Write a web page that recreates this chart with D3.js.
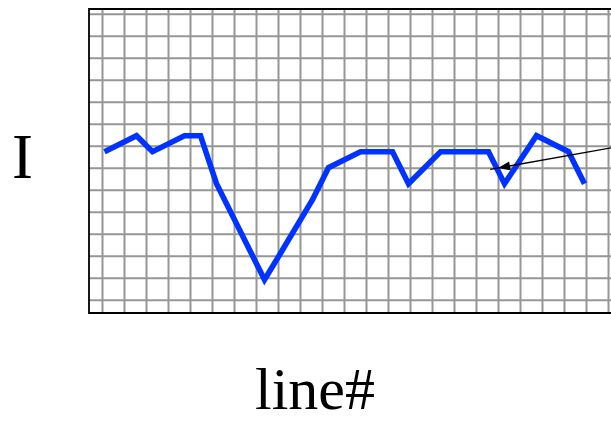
<!DOCTYPE html>
<html>
<head>
<meta charset="utf-8">
<script src="https://cdn.jsdelivr.net/npm/d3@7"></script>
<style>
  html, body { margin: 0; padding: 0; background: #fff; overflow: hidden; }
  svg { display: block; }
</style>
</head>
<body>
<svg id="chart" width="611" height="423"></svg>
<script>
// ---- data ----
const lineNumbers = [0, 2, 3, 5, 6, 7, 10, 11, 13, 14, 16, 18, 19, 21, 24, 25, 27, 29, 30];
const intensity   = [8, 9, 8, 9, 9, 6, 0, 1.65, 5, 7, 8, 8, 6, 8, 8, 6, 9, 8, 6];
const arrowFrom = [31.7, 8.25];
const arrowTo   = [24.6, 6.98];
const xLabel = "line#";
const yLabel = "I";

// ---- layout ----
const W = 611, H = 423;
const plot = { left: 89, top: 9, bottom: 313, right: 660 };

const svg = d3.select("#chart");

const x = d3.scaleLinear().domain([0, 30]).range([104.5, 584.5]);
const y = d3.scaleLinear().domain([0, 9]).range([279.7, 135.7]);

// grid (decorative, evenly spaced)
const gx = d3.scaleLinear().domain([0, 1]).range([102.5, 124.5]);
const gy = d3.scaleLinear().domain([0, 1]).range([14.3, 36.3]);
const vCount = d3.range(0, 24);
const hCount = d3.range(0, 14);

const grid = svg.append("g").attr("stroke", "#969696").attr("stroke-width", 2);
grid.selectAll("line.v").data(vCount).join("line")
  .attr("class", "v")
  .attr("x1", d => gx(d)).attr("x2", d => gx(d))
  .attr("y1", plot.top).attr("y2", plot.bottom);
grid.selectAll("line.h").data(hCount).join("line")
  .attr("class", "h")
  .attr("x1", plot.left).attr("x2", plot.right)
  .attr("y1", d => gy(d)).attr("y2", d => gy(d));

// frame (left, top, bottom)
const frame = svg.append("g").attr("stroke", "#000").attr("stroke-width", 1.8).attr("fill", "none");
frame.append("path")
  .attr("d", `M${plot.right},${plot.top}H${plot.left}V${plot.bottom}H${plot.right}`);

// data line
const pts = lineNumbers.map((n, i) => [n, intensity[i]]);
svg.append("path")
  .datum(pts)
  .attr("fill", "none")
  .attr("stroke", "#0033ff")
  .attr("stroke-width", 5.6)
  .attr("stroke-linejoin", "miter")
  .attr("d", d3.line().x(d => x(d[0])).y(d => y(d[1])));

// annotation arrow
const ax1 = x(arrowFrom[0]), ay1 = y(arrowFrom[1]);
const ax2 = x(arrowTo[0]), ay2 = y(arrowTo[1]);
const ang = Math.atan2(ay2 - ay1, ax2 - ax1);
const tailX = ax2 + Math.cos(ang) * 8, tailY = ay2 + Math.sin(ang) * 8;
svg.append("line")
  .attr("x1", ax1).attr("y1", ay1).attr("x2", tailX).attr("y2", tailY)
  .attr("stroke", "#000").attr("stroke-width", 1.3);
const L = 12, hw = 4.5;
const bx = ax2 - Math.cos(ang) * L, by = ay2 - Math.sin(ang) * L;
const px = -Math.sin(ang) * hw, py = Math.cos(ang) * hw;
svg.append("path")
  .attr("d", `M${ax2},${ay2}L${bx + px},${by + py}L${bx - px},${by - py}Z`)
  .attr("fill", "#000");

// labels
svg.append("text")
  .attr("x", 22.5).attr("y", 178)
  .attr("text-anchor", "middle")
  .attr("font-family", "'Liberation Serif', 'Times New Roman', serif")
  .attr("font-size", 63)
  .attr("fill", "#000")
  .text(yLabel);

svg.append("text")
  .attr("x", 315).attr("y", 409)
  .attr("text-anchor", "middle")
  .attr("font-family", "'Liberation Serif', 'Times New Roman', serif")
  .attr("font-size", 60)
  .attr("fill", "#000")
  .text(xLabel);
</script>
</body>
</html>
